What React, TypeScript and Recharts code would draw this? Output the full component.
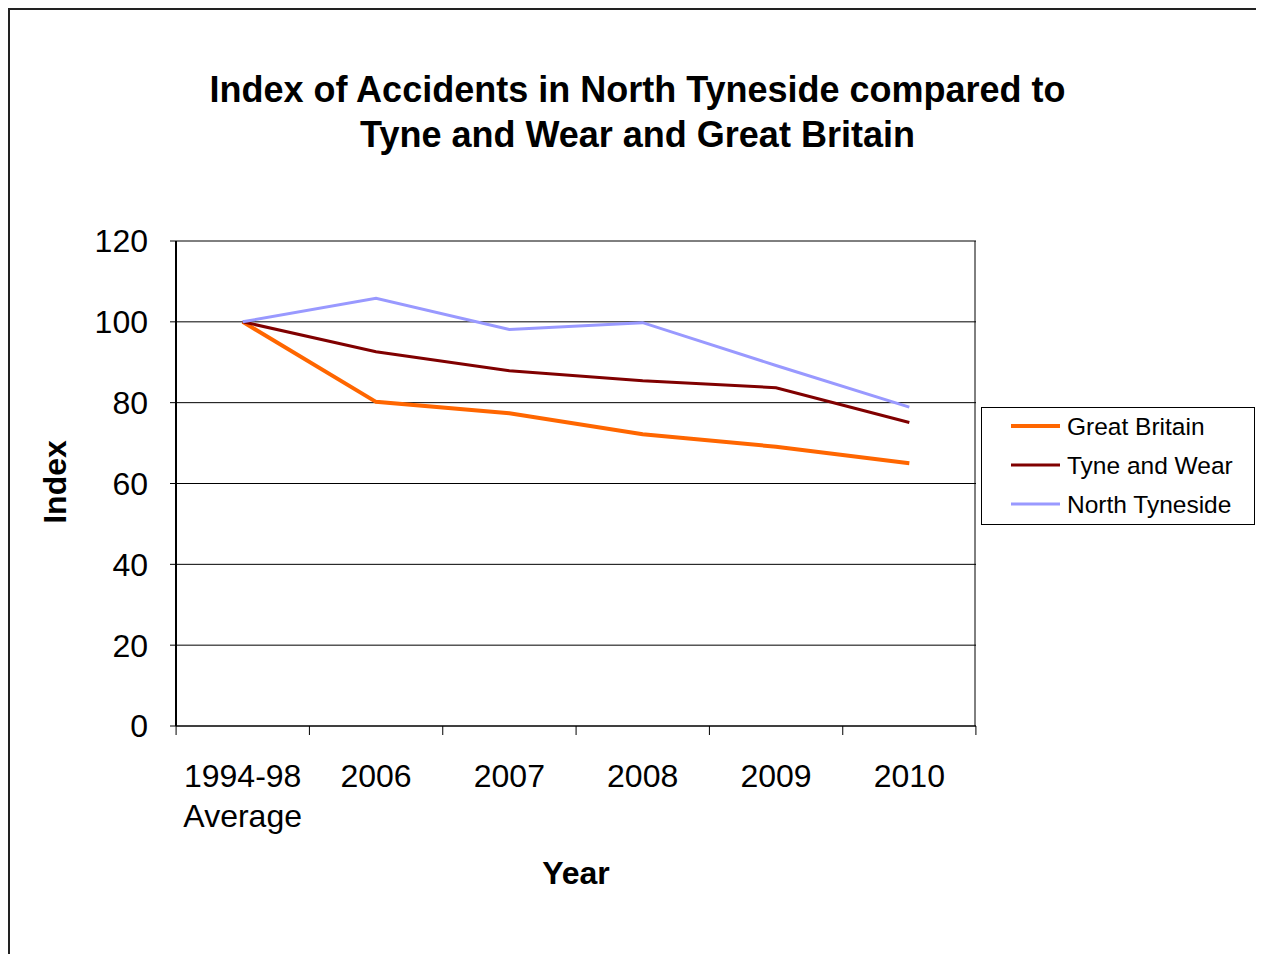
import React from "react"
import { LineChart, Line, XAxis, YAxis, CartesianGrid, Legend } from "recharts"

const categories = ["1994-98 Average", "2006", "2007", "2008", "2009", "2010"]
const greatBritain = [100, 80.2, 77.4, 72.2, 69.1, 65.0]
const tyneAndWear = [100, 92.6, 87.9, 85.4, 83.7, 75.1]
const northTyneside = [100, 105.8, 98.1, 99.8, 89.2, 78.9]
const yTicks = [0, 20, 40, 60, 80, 100, 120]

const series = [
  { key: "gb", name: "Great Britain", color: "#FF6600", width: 4 },
  { key: "tw", name: "Tyne and Wear", color: "#800000", width: 3 },
  { key: "nt", name: "North Tyneside", color: "#9999FF", width: 3 },
]

const data = categories.map((year, i) => ({
  year,
  gb: greatBritain[i],
  tw: tyneAndWear[i],
  nt: northTyneside[i],
}))

const FONT = '"Liberation Sans", Arial, sans-serif'
const CHART_W = 1254
const CHART_H = 944
const MARGIN = { top: 231, right: 288, bottom: 128, left: 86 }
const Y_AXIS_W = 80
const PLOT_W = 799
const BAND = PLOT_W / categories.length
// right edge of the plot area, in chart coordinates
const PLOT_RIGHT = MARGIN.left + Y_AXIS_W + PLOT_W

function XTick(props: any) {
  const { x, y, payload, index } = props
  const lines = String(payload.value).split(" ")
  const half = BAND / 2
  return (
    <g>
      <line x1={x - half} x2={x - half} y1={y} y2={y + 9} stroke="#000" />
      {index === categories.length - 1 && (
        <line x1={x + half} x2={x + half} y1={y} y2={y + 9} stroke="#000" />
      )}
      <text x={x} y={y + 61} textAnchor="middle" fontSize={32} fill="#000" fontFamily={FONT}>
        {lines.map((l, i) => (
          <tspan key={i} x={x} dy={i === 0 ? 0 : 40}>
            {l}
          </tspan>
        ))}
      </text>
    </g>
  )
}

function LegendBox() {
  return (
    <svg width={272} height={116}>
      {series.map((s, i) => {
        const cy = 18 + i * 39
        return (
          <g key={s.key}>
            <line x1={29} x2={78} y1={cy} y2={cy} stroke={s.color} strokeWidth={s.width} />
            <text x={85} y={cy} dy="0.35em" fontSize={24.5} fill="#000" fontFamily={FONT}>
              {s.name}
            </text>
          </g>
        )
      })}
    </svg>
  )
}

export default function App() {
  return (
    <div
      style={{
        position: "relative",
        width: CHART_W,
        height: CHART_H,
        borderTop: "2px solid #222",
        borderLeft: "2px solid #222",
        background: "#fff",
        fontFamily: FONT,
        color: "#000",
      }}
    >
      <style>{"html, body { overflow: hidden; }"}</style>
      <div
        style={{
          position: "absolute",
          left: 27.5,
          top: 56.5,
          width: 1200,
          textAlign: "center",
          fontSize: 36,
          fontWeight: "bold",
          lineHeight: "45px",
        }}
      >
        Index of Accidents in North Tyneside compared to
        <br />
        Tyne and Wear and Great Britain
      </div>

      <LineChart
        width={CHART_W}
        height={CHART_H}
        data={data}
        margin={MARGIN}
        style={{ fontFamily: FONT }}
      >
        <CartesianGrid
          stroke="#000"
          horizontal={{ stroke: "#000" }}
          vertical={{ stroke: "#808080" }}
          verticalPoints={[PLOT_RIGHT]}
        />
        <XAxis
          dataKey="year"
          scale="band"
          interval={0}
          height={100}
          tickLine={false}
          tickSize={0}
          tickMargin={0}
          axisLine={{ stroke: "#000", strokeWidth: 1 }}
          tick={<XTick />}
        />
        <YAxis
          domain={[0, 120]}
          ticks={yTicks}
          width={Y_AXIS_W}
          tickSize={6}
          tickMargin={22}
          interval={0}
          axisLine={{ stroke: "#000", strokeWidth: 2 }}
          tickLine={{ stroke: "#000" }}
          tick={{ fontSize: 32, fill: "#000", fontFamily: FONT }}
        />
        <Legend
          layout="vertical"
          align="center"
          verticalAlign="middle"
          content={() => <LegendBox />}
          wrapperStyle={{
            left: 971,
            top: 397,
            width: 274,
            height: 118,
            border: "1px solid #000",
            boxSizing: "border-box",
            background: "#fff",
          }}
        />
        {series.map((s) => (
          <Line
            key={s.key}
            type="linear"
            dataKey={s.key}
            name={s.name}
            stroke={s.color}
            strokeWidth={s.width}
            dot={false}
            activeDot={false}
            isAnimationActive={false}
          />
        ))}
      </LineChart>

      <div
        style={{
          position: "absolute",
          left: 45,
          top: 472,
          transform: "translate(-50%, -50%) rotate(-90deg)",
          fontSize: 32,
          fontWeight: "bold",
          whiteSpace: "nowrap",
        }}
      >
        Index
      </div>
      <div
        style={{
          position: "absolute",
          left: 566,
          top: 863,
          transform: "translate(-50%, -50%)",
          fontSize: 32,
          fontWeight: "bold",
          whiteSpace: "nowrap",
        }}
      >
        Year
      </div>
    </div>
  )
}
